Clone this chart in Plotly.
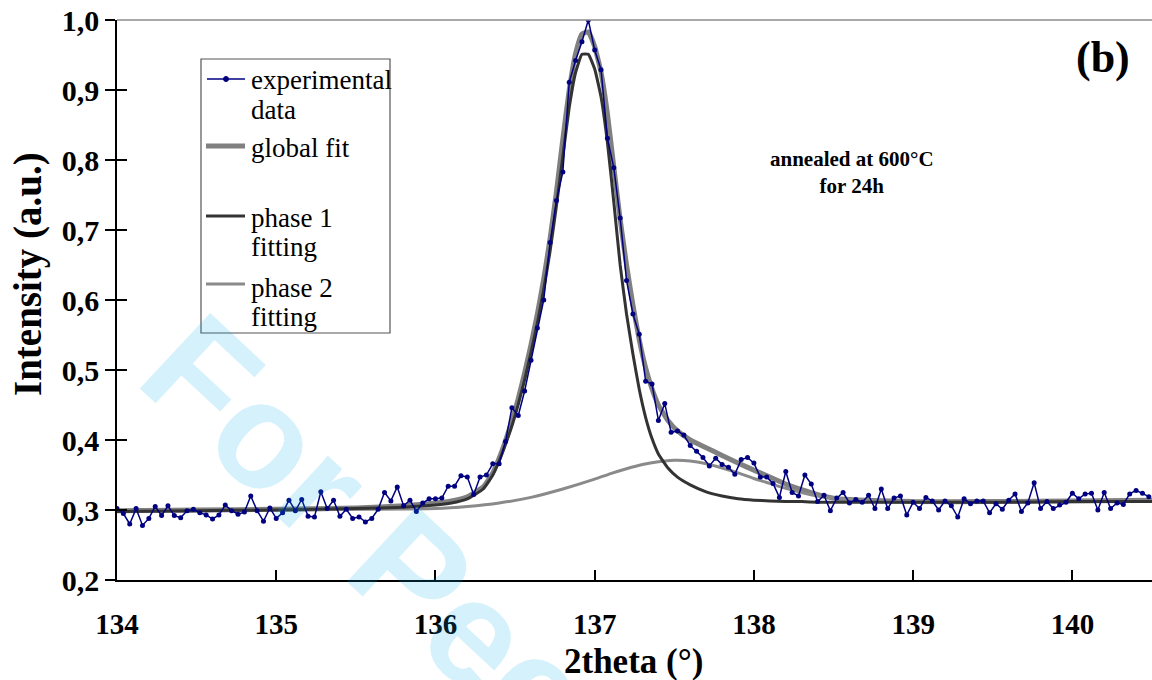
import plotly.graph_objects as go

# measured XRD profile (scan step 0.04 deg starting at 134.00)
scan_start = 134.0
scan_step = 0.04
intensity = [
    0.302, 0.295, 0.280, 0.302, 0.278, 0.288, 0.305, 0.292, 0.306, 0.292,
    0.289, 0.299, 0.301, 0.296, 0.293, 0.287, 0.293, 0.307, 0.299, 0.294,
    0.297, 0.320, 0.299, 0.284, 0.303, 0.288, 0.296, 0.314, 0.299, 0.315,
    0.291, 0.290, 0.326, 0.302, 0.314, 0.291, 0.301, 0.288, 0.290, 0.283,
    0.288, 0.301, 0.325, 0.313, 0.333, 0.306, 0.314, 0.298, 0.310, 0.316,
    0.316, 0.317, 0.334, 0.334, 0.349, 0.347, 0.322, 0.347, 0.350, 0.366,
    0.366, 0.398, 0.446, 0.435, 0.470, 0.514, 0.560, 0.600, 0.682, 0.742,
    0.783, 0.911, 0.942, 0.969, 1.000, 0.957, 0.929, 0.831, 0.789, 0.717,
    0.628, 0.580, 0.551, 0.484, 0.480, 0.428, 0.452, 0.411, 0.413, 0.407,
    0.392, 0.384, 0.375, 0.363, 0.374, 0.365, 0.361, 0.351, 0.372, 0.375,
    0.367, 0.347, 0.347, 0.338, 0.318, 0.355, 0.325, 0.320, 0.350, 0.337,
    0.312, 0.321, 0.299, 0.317, 0.325, 0.310, 0.315, 0.311, 0.321, 0.302,
    0.330, 0.302, 0.317, 0.320, 0.293, 0.311, 0.302, 0.318, 0.313, 0.300,
    0.313, 0.306, 0.290, 0.316, 0.309, 0.313, 0.313, 0.296, 0.309, 0.301,
    0.314, 0.323, 0.298, 0.310, 0.339, 0.302, 0.312, 0.302, 0.307, 0.311,
    0.324, 0.316, 0.323, 0.324, 0.300, 0.325, 0.302, 0.310, 0.308, 0.323,
    0.328, 0.324, 0.319,
]
two_theta = [round(scan_start + scan_step * i, 2) for i in range(len(intensity))]

# fitted curves
fit_x = [
    134.0, 134.5, 135.0, 135.5, 135.8, 136.0, 136.1, 136.2, 136.3, 136.36,
    136.40, 136.44, 136.48, 136.52, 136.56, 136.60, 136.64, 136.68, 136.72, 136.76,
    136.80, 136.84, 136.88, 136.92, 136.96, 137.00, 137.04, 137.08, 137.12, 137.16,
    137.20, 137.24, 137.28, 137.32, 137.36, 137.40, 137.46, 137.52, 137.60, 137.70,
    137.80, 137.90, 138.00, 138.10, 138.20, 138.30, 138.40, 138.50, 138.60, 138.70,
    139.0, 139.5, 140.0, 140.5,
]
global_fit = [
    0.299, 0.300, 0.301, 0.303, 0.306, 0.310, 0.313, 0.319, 0.333, 0.353,
    0.374, 0.399, 0.427, 0.459, 0.496, 0.536, 0.580, 0.630, 0.688, 0.755,
    0.830, 0.900, 0.952, 0.980, 0.983, 0.962, 0.925, 0.866, 0.790, 0.715,
    0.650, 0.593, 0.543, 0.503, 0.473, 0.450, 0.428, 0.413, 0.400, 0.389,
    0.378, 0.367, 0.357, 0.347, 0.337, 0.329, 0.322, 0.317, 0.315, 0.314,
    0.312, 0.312, 0.313, 0.314,
]
phase1_fit = [
    0.298, 0.299, 0.300, 0.302, 0.304, 0.307, 0.310, 0.316, 0.330, 0.350,
    0.370, 0.394, 0.420, 0.451, 0.486, 0.525, 0.567, 0.615, 0.670, 0.735,
    0.805, 0.875, 0.925, 0.951, 0.951, 0.930, 0.890, 0.825, 0.740, 0.650,
    0.580, 0.523, 0.472, 0.432, 0.402, 0.380, 0.360, 0.347, 0.336, 0.326,
    0.320, 0.316, 0.314, 0.313, 0.312, 0.312, 0.311, 0.311, 0.311, 0.311,
    0.311, 0.311, 0.312, 0.312,
]
phase2_x = [
    134.0, 135.0, 135.5, 136.0, 136.2, 136.4, 136.6, 136.8, 137.0, 137.1,
    137.2, 137.3, 137.4, 137.5, 137.6, 137.7, 137.8, 137.9, 138.0, 138.1,
    138.2, 138.3, 138.4, 138.5, 138.7, 139.0, 140.5,
]
phase2_fit = [
    0.298, 0.300, 0.301, 0.302, 0.305, 0.310, 0.318, 0.330, 0.344, 0.352,
    0.359, 0.365, 0.369, 0.371, 0.370, 0.366, 0.360, 0.353, 0.345, 0.338,
    0.331, 0.325, 0.320, 0.317, 0.314, 0.312, 0.313,
]

x_ticks = [134, 135, 136, 137, 138, 139, 140]
y_ticks = [0.2, 0.3, 0.4, 0.5, 0.6, 0.7, 0.8, 0.9, 1.0]

SERIF = "Liberation Serif"
NAVY = "#000080"
GREY = "#808080"
DARK = "#333333"

W, H = 1152, 680
# plot area in pixels, used to place the hand-made legend
L, R, T, B = 117, 1152, 20, 580


def px(x):
    return (x - L) / (R - L)


def py(y):
    return (B - y) / (B - T)


fig = go.Figure()
fig.add_trace(go.Scatter(x=fit_x, y=global_fit, mode="lines",
                         line=dict(color=GREY, width=5, shape="spline", smoothing=0.4)))
fig.add_trace(go.Scatter(x=phase2_x, y=phase2_fit, mode="lines",
                         line=dict(color="#8a8a8a", width=3, shape="spline", smoothing=0.6)))
fig.add_trace(go.Scatter(x=fit_x, y=phase1_fit, mode="lines",
                         line=dict(color=DARK, width=3, shape="spline", smoothing=0.4)))
fig.add_trace(go.Scatter(x=two_theta, y=intensity, mode="lines+markers",
                         line=dict(color=NAVY, width=1.5),
                         marker=dict(color=NAVY, size=5)))
# overlay axis for the inner half of the y ticks
fig.add_trace(go.Scatter(x=[134], y=[0.2], yaxis="y2", mode="markers",
                         marker=dict(opacity=0), hoverinfo="skip"))

fig.update_layout(
    width=W, height=H,
    margin=dict(l=L, r=W - R, t=T, b=H - B),
    paper_bgcolor="white", plot_bgcolor="white",
    showlegend=False,
    separators=",.",
    font=dict(family=SERIF, color="black"),
    xaxis=dict(range=[134, 140.5], tickvals=x_ticks, ticks="inside", ticklen=10,
               tickwidth=1.5, tickcolor="black", showline=True, linecolor="black",
               linewidth=1.5, showgrid=False, zeroline=False, ticklabelstandoff=17,
               tickfont=dict(family=SERIF, size=29, weight="bold")),
    yaxis=dict(range=[0.2, 1.0], tickvals=y_ticks, tickformat=".1f", ticks="outside",
               ticklen=10, tickwidth=1.5, tickcolor="black", showline=True,
               linecolor="black", linewidth=1.5, showgrid=False, zeroline=False,
               ticklabelstandoff=0,
               tickfont=dict(family=SERIF, size=30, weight="bold")),
    yaxis2=dict(range=[0.2, 1.0], tickvals=y_ticks, overlaying="y", side="left",
                ticks="inside", ticklen=10, tickwidth=1.5, tickcolor="black",
                showticklabels=False, showgrid=False, zeroline=False, showline=False),
)

shapes = [
    # grey top border
    dict(type="line", xref="paper", yref="paper", x0=0, x1=1, y0=1, y1=1,
         line=dict(color="#8c8c8c", width=1.5)),
    # legend box
    dict(type="rect", xref="paper", yref="paper", x0=px(201), x1=px(390),
         y0=py(59), y1=py(333), line=dict(color="#555555", width=1.2),
         fillcolor="white", layer="below"),
    dict(type="line", xref="paper", yref="paper", x0=px(207), x1=px(245),
         y0=py(79), y1=py(79), line=dict(color=NAVY, width=1.5)),
    dict(type="circle", xref="paper", yref="paper", x0=px(223.5), x1=px(228.5),
         y0=py(76.5), y1=py(81.5), line=dict(color=NAVY, width=1), fillcolor=NAVY),
    dict(type="line", xref="paper", yref="paper", x0=px(206), x1=px(245),
         y0=py(146), y1=py(146), line=dict(color=GREY, width=5)),
    dict(type="line", xref="paper", yref="paper", x0=px(206), x1=px(245),
         y0=py(216), y1=py(216), line=dict(color=DARK, width=3)),
    dict(type="line", xref="paper", yref="paper", x0=px(206), x1=px(245),
         y0=py(284), y1=py(284), line=dict(color="#8a8a8a", width=3)),
]
fig.update_layout(shapes=shapes)

legend_lines = [("experimental", 80), ("data", 110), ("global fit", 148),
                ("phase 1", 218), ("fitting", 247), ("phase 2", 288), ("fitting", 317)]
annotations = []
for txt, yy in legend_lines:
    annotations.append(dict(text=txt, xref="paper", yref="paper", x=px(249), y=py(yy),
                            xanchor="left", yanchor="middle", showarrow=False,
                            font=dict(family=SERIF, size=27, color="black")))

annotations += [
    dict(text="Intensity (a.u.)", xref="paper", yref="paper", x=px(28), y=py(274),
         textangle=-90, showarrow=False, xanchor="center", yanchor="middle",
         font=dict(family=SERIF, size=39, weight="bold")),
    dict(text="2theta (°)", xref="paper", yref="paper", x=px(633), y=py(661),
         showarrow=False, xanchor="center", yanchor="middle",
         font=dict(family=SERIF, size=35, weight="bold")),
    dict(text="(b)", xref="paper", yref="paper", x=px(1103), y=py(58),
         showarrow=False, xanchor="center", yanchor="middle",
         font=dict(family=SERIF, size=44, weight="bold")),
    dict(text="annealed at 600°C<br>for 24h", xref="paper", yref="paper",
         x=px(852), y=py(172), showarrow=False, xanchor="center", yanchor="middle",
         align="center", font=dict(family=SERIF, size=21, weight="bold")),
    # journal watermark
    dict(text="For Peer Review", xref="paper", yref="paper", x=px(595), y=py(742),
         textangle=43, showarrow=False, xanchor="center", yanchor="middle",
         font=dict(family="Liberation Sans", size=150, weight="bold",
                   color="rgba(0,170,235,0.17)")),
]
fig.update_layout(annotations=annotations)

# drop the browser's default body margin so the figure fills the window
fig.write_html("out.html", config={"displayModeBar": False},
               post_script="document.body.style.margin = '0';")
